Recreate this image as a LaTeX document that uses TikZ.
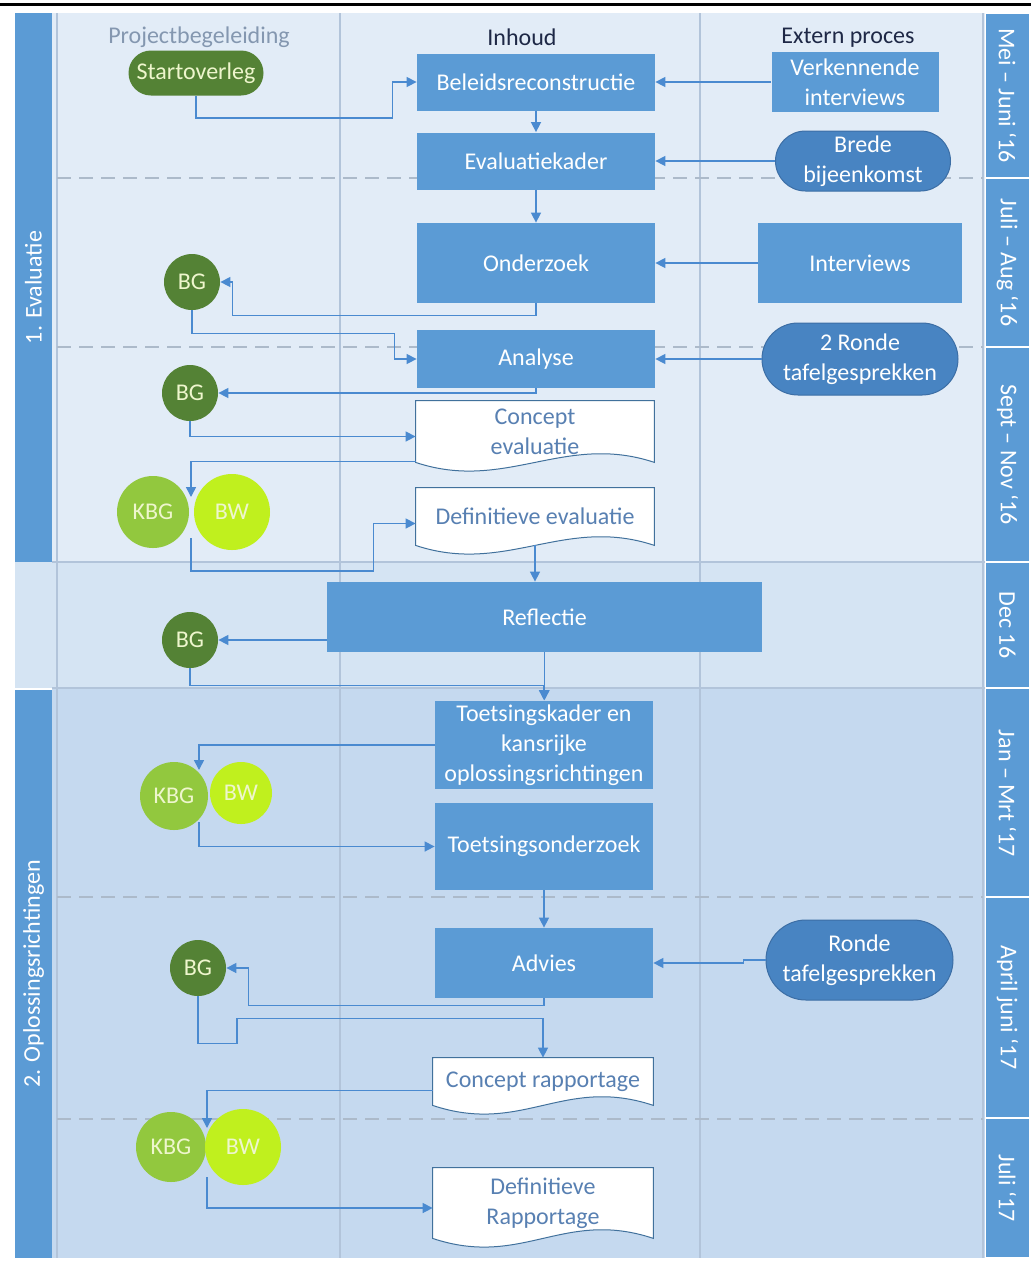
\documentclass[tikz,border=0pt]{standalone}
\usepackage{fontspec}
\setmainfont{Carlito}
\usetikzlibrary{arrows.meta,backgrounds,shapes.misc}

\begin{document}
\begin{tikzpicture}[x=0.5pt, y=-0.5pt, font=\fontsize{12}{15}\selectfont,
    taak/.style 2 args={rectangle, fill=mybox, text=white, align=center, inner sep=2pt,
        minimum width=#1, minimum height=#2},
    extern/.style 2 args={rounded rectangle, fill=myextern, draw=myexternrand, line width=0.5pt,
        text=white, align=center, inner sep=2pt, minimum width=#1, minimum height=#2},
    docvak/.style 2 args={rectangle, text=mydoctext, align=center, inner sep=2pt,
        minimum width=#1, minimum height=#2},
    bgcirkel/.style={circle, fill=mygreen, text=mypale, minimum size=28pt, inner sep=0pt},
    kbgcirkel/.style={circle, fill=mykbg, text=mypale, minimum size=#1, inner sep=0pt},
    bwcirkel/.style={circle, fill=mybw, text=mypale, minimum size=#1, inner sep=0pt},
    flow/.style={draw=myline, line width=0.75pt, -{Triangle[length=5pt,width=5pt]}},
    datum/.style={rotate=-90, text=white},
    fase/.style={rotate=90, text=white},
]
    \definecolor{mybox}{RGB}{91,155,213}
    \definecolor{myextern}{RGB}{72,132,194}
    \definecolor{myexternrand}{RGB}{60,110,165}
    \definecolor{mygreen}{RGB}{84,130,53}
    \definecolor{mykbg}{RGB}{146,200,62}
    \definecolor{mybw}{RGB}{192,240,30}
    \definecolor{mypale}{RGB}{238,246,205}
    \definecolor{evalbg}{RGB}{226,236,247}
    \definecolor{reflbg}{RGB}{213,228,243}
    \definecolor{oplbg}{RGB}{197,217,239}
    \definecolor{gridline}{RGB}{178,196,218}
    \definecolor{dashline}{RGB}{172,186,202}
    \definecolor{mydoctext}{RGB}{88,128,178}
    \definecolor{mydocrand}{RGB}{65,113,156}
    \definecolor{myline}{RGB}{74,138,208}
    \definecolor{myhead}{RGB}{132,151,176}
    \definecolor{mydark}{RGB}{30,40,70}

    \useasboundingbox (0,0) rectangle (1031,1266);
    \draw[line width=1.7pt] (0,4.5) -- (1031,4.5);

    % banen en tijdbalk
    \begin{scope}[on background layer]
        \fill[evalbg] (52,13) rectangle (985,562);
        \fill[reflbg] (15,562) rectangle (985,688);
        \fill[oplbg] (52,688) rectangle (985,1258);
        \fill[mybox] (15,13) rectangle (52,562);
        \fill[mybox] (15,690) rectangle (52,1258);
        \foreach \ya/\yb in {13/178,178/347,347/562,562/688,688/897,897/1118,1118/1258}
            \fill[mybox] (986,\ya+1) rectangle (1029,\yb-1);
        \foreach \x in {57,340,700,983}
            \draw[gridline, line width=1pt] (\x,13) -- (\x,1258);
        \draw[gridline, line width=1pt] (52,562) -- (985,562);
        \draw[gridline, line width=1pt] (52,688) -- (985,688);
        \foreach \y in {178,347,897,1119}
            \draw[dashline, line width=0.6pt, dash pattern=on 7pt off 4pt] (57,\y) -- (983,\y);
    \end{scope}

    \node[fase] (lbleval) at (33.5,287.5) {1. Evaluatie};
    \node[fase] (lblopl) at (33.5,974) {2. Oplossingsrichtingen};
    \node[datum] (date1) at (1007.5,95.5) {Mei – Juni ‘16};
    \node[datum] (date2) at (1007.5,262.5) {Juli – Aug ‘16};
    \node[datum] (date3) at (1007.5,454.5) {Sept – Nov ‘16};
    \node[datum] (date4) at (1007.5,625) {Dec 16};
    \node[datum] (date5) at (1007.5,793.5) {Jan – Mrt ‘17};
    \node[datum] (date6) at (1007.5,1007.5) {April juni ‘17};
    \node[datum] (date7) at (1007.5,1188) {Juli ‘17};

    \node[text=myhead] (hproj) at (199,37) {Projectbegeleiding};
    \node[text=mydark] (hinh) at (522,37) {Inhoud};
    \node[text=mydark] (hext) at (848,38) {Extern proces};

    % fase 1
    \node[rounded rectangle, fill=mygreen, text=mypale, minimum width=71.5pt, minimum height=22.5pt,
        inner sep=2pt] (start) at (196,73) {Startoverleg};
    \node[taak={119pt}{28.5pt}] (beleid) at (536,82) {Beleidsreconstructie};
    \node[taak={119pt}{28.5pt}] (kader) at (536,161) {Evaluatiekader};
    \node[taak={83.5pt}{30pt}] (verk) at (855,82) {Verkennende\\interviews};
    \node[extern={91.5pt}{30pt}] (brede) at (863,161) {Brede\\bijeenkomst};
    \node[taak={119pt}{40pt}] (onderz) at (536,263) {Onderzoek};
    \node[taak={102pt}{40pt}] (interv) at (860,263) {Interviews};
    \node[bgcirkel] (bg1) at (192,282) {BG};
    \node[taak={119pt}{29pt}] (analyse) at (536,359) {Analyse};
    \node[extern={102pt}{36pt}] (ronde1) at (860,359) {2 Ronde\\tafelgesprekken};
    \node[bgcirkel] (bg2) at (190,393) {BG};
    \node[docvak={119pt}{30.5pt}] (concev) at (535,431.5) {Concept\\evaluatie};
    \node[kbgcirkel=36pt] (kbg1) at (153,512) {KBG};
    \node[bwcirkel=38pt] (bw1) at (232,512) {BW};
    \coordinate (kb1) at (191,512);
    \node[docvak={119pt}{28.5pt}] (defev) at (535,516.5) {Definitieve evaluatie};

    % reflectie
    \node[taak={217.5pt}{35pt}] (refl) at (544.5,617) {Reflectie};
    \node[bgcirkel] (bg3) at (190,640) {BG};

    % fase 2
    \node[taak={109pt}{43pt}] (toets) at (544,745) {Toetsingskader en\\kansrijke\\oplossingsrichtingen};
    \node[kbgcirkel=34pt] (kbg2) at (174,796) {KBG};
    \node[bwcirkel=31pt] (bw2) at (241,793) {BW};
    \coordinate (kb2) at (199,796);
    \node[taak={109pt}{43.5pt}] (toetsonderz) at (544,846.5) {Toetsingsonderzoek};
    \node[taak={109pt}{35pt}] (advies) at (544,963) {Advies};
    \node[extern={97.5pt}{40pt}] (ronde2) at (859.5,960) {Ronde\\tafelgesprekken};
    \node[bgcirkel] (bg4) at (198,968) {BG};
    \node[docvak={110pt}{23.5pt}] (concrap) at (543,1081.5) {Concept rapportage};
    \node[kbgcirkel=35pt] (kbg3) at (171,1147) {KBG};
    \node[bwcirkel=38pt] (bw3) at (243,1147) {BW};
    \coordinate (kb3) at (207,1147);
    \node[docvak={110pt}{35pt}] (defrap) at (543,1203) {Definitieve\\Rapportage};

    % documentvormen
    \begin{scope}[on background layer]
        \foreach \d in {concev,defev,concrap,defrap}
            \draw[fill=white, draw=mydocrand, line width=0.5pt] (\d.north west) -- (\d.north east) -- (\d.south east)
                .. controls ([xshift=-45pt,yshift=15pt]\d.south east) and ([xshift=45pt,yshift=-15pt]\d.south west) .. (\d.south west) -- cycle;
    \end{scope}

    % verbindingen
    \draw[flow] (start.south) -- ++(0,22) -| ([xshift=-12pt]beleid.west) -- (beleid.west);
    \draw[flow] (verk.west) -- (beleid.east);
    \draw[flow] (beleid.south) -- (kader.north);
    \draw[flow] (brede.west) -- (kader.east);
    \draw[flow] (kader.south) -- (onderz.north);
    \draw[flow] (interv.west) -- (onderz.east);
    \draw[flow] (onderz.south) -- ++(0,12) -| ([xshift=6pt]bg1.east) -- (bg1.east);
    \draw[flow] (bg1.south) -- ++(0,23) -| ([xshift=-11pt]analyse.west) -- (analyse.west);
    \draw[flow] (ronde1.west) -- (analyse.east);
    \draw[flow] (analyse.south) |- (bg2.east);
    \draw[flow] (bg2.south) |- ([yshift=-2.5pt]concev.west);
    \draw[flow] ([yshift=-15pt]concev.west) -| ([yshift=7.5pt]kb1);
    \draw[flow] ([yshift=-13pt]kb1) -- ++(0,33) -| ([xshift=-21pt,yshift=-3.5pt]defev.west) -- ([yshift=-3.5pt]defev.west);
    \draw[flow] (defev.south) -- (defev.south |- refl.north);
    \draw[flow] (refl.west |- bg3.east) -- (bg3.east);
    \draw[flow] (bg3.south) -- ++(0,17) -| (toets.north);
    \draw[flow] (refl.south) -- (refl.south |- toets.north);
    \draw[flow] (toets.west) -| ([yshift=13pt]kb2);
    \draw[flow] ([yshift=-13pt]kb2) |- (toetsonderz.west);
    \draw[flow] (toetsonderz.south) -- (advies.north);
    \draw[flow] (ronde2.west) -- ++(-22,0) |- (advies.east);
    \draw[flow] (advies.south) -- ++(0,7) -| ([xshift=11pt]bg4.east) -- (bg4.east);
    \draw[flow] (bg4.south) -- ++(0,47) -| ++(39,-25) -| (concrap.north);
    \draw[flow] ([yshift=-4.5pt]concrap.west) -| ([yshift=9.5pt]kb3);
    \draw[flow] ([yshift=-15pt]kb3) |- ([yshift=-2.5pt]defrap.west);
\end{tikzpicture}
\end{document}
